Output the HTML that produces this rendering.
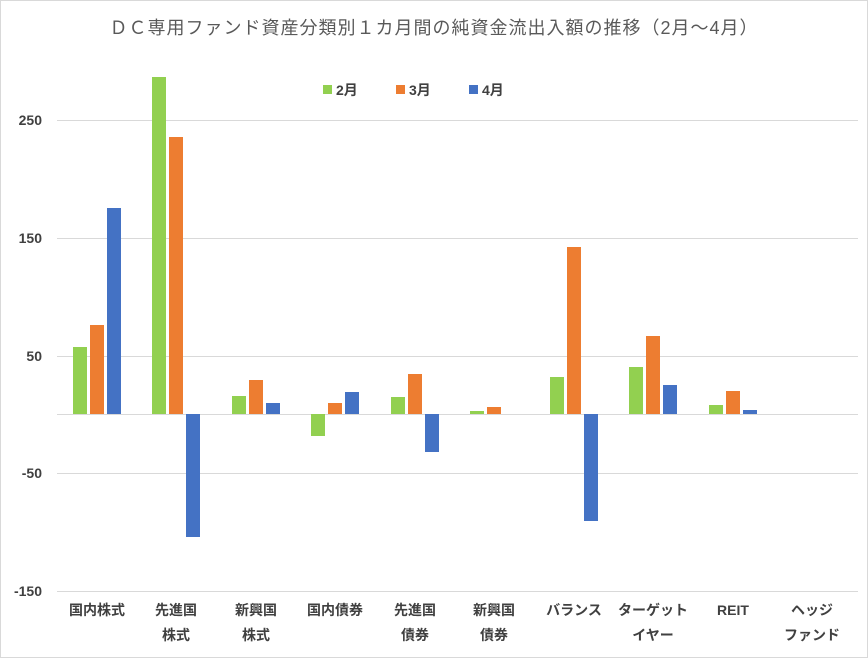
<!DOCTYPE html>
<html><head><meta charset="utf-8"><style>
body{margin:0;background:#fff}
</style></head><body>
<svg width="868" height="658" xmlns="http://www.w3.org/2000/svg" font-family="Liberation Sans, Noto Sans CJK JP, sans-serif">
<rect x="0.5" y="0.5" width="867" height="657" fill="#fff" stroke="#d9d9d9"/>
<text x="434" y="34" text-anchor="middle" font-size="18" fill="#595959" letter-spacing="1">ＤＣ専用ファンド資産分類別１カ月間の純資金流出入額の推移（2月～4月）</text>
<g font-size="14" font-weight="bold" fill="#404040">
<rect x="323" y="85" width="9" height="9" fill="#92d050"/><text x="336" y="95">2月</text>
<rect x="396" y="85" width="9" height="9" fill="#ed7d31"/><text x="409" y="95">3月</text>
<rect x="469" y="85" width="9" height="9" fill="#4472c4"/><text x="482" y="95">4月</text>
</g>
<g stroke="#d9d9d9" stroke-width="1">
<line x1="57" x2="858" y1="120.5" y2="120.5"/><line x1="57" x2="858" y1="238.5" y2="238.5"/>
<line x1="57" x2="858" y1="356.5" y2="356.5"/><line x1="57" x2="858" y1="414.5" y2="414.5"/>
<line x1="57" x2="858" y1="473.5" y2="473.5"/><line x1="57" x2="858" y1="591.5" y2="591.5"/>
</g>
<g font-size="14" font-weight="bold" fill="#404040" text-anchor="end">
<text x="42" y="125">250</text><text x="42" y="243">150</text><text x="42" y="361">50</text>
<text x="42" y="478">-50</text><text x="42" y="596">-150</text>
</g>
<g>
<rect x="73" y="347" width="14" height="67" fill="#92d050"/><rect x="90" y="325" width="14" height="89" fill="#ed7d31"/><rect x="107" y="208" width="14" height="206" fill="#4472c4"/>
<rect x="152" y="77" width="14" height="337" fill="#92d050"/><rect x="169" y="137" width="14" height="277" fill="#ed7d31"/><rect x="186" y="414" width="14" height="123" fill="#4472c4"/>
<rect x="232" y="396" width="14" height="18" fill="#92d050"/><rect x="249" y="380" width="14" height="34" fill="#ed7d31"/><rect x="266" y="403" width="14" height="11" fill="#4472c4"/>
<rect x="311" y="414" width="14" height="22" fill="#92d050"/><rect x="328" y="403" width="14" height="11" fill="#ed7d31"/><rect x="345" y="392" width="14" height="22" fill="#4472c4"/>
<rect x="391" y="397" width="14" height="17" fill="#92d050"/><rect x="408" y="374" width="14" height="40" fill="#ed7d31"/><rect x="425" y="414" width="14" height="38" fill="#4472c4"/>
<rect x="470" y="411" width="14" height="3" fill="#92d050"/><rect x="487" y="407" width="14" height="7" fill="#ed7d31"/>
<rect x="550" y="377" width="14" height="37" fill="#92d050"/><rect x="567" y="247" width="14" height="167" fill="#ed7d31"/><rect x="584" y="414" width="14" height="107" fill="#4472c4"/>
<rect x="629" y="367" width="14" height="47" fill="#92d050"/><rect x="646" y="336" width="14" height="78" fill="#ed7d31"/><rect x="663" y="385" width="14" height="29" fill="#4472c4"/>
<rect x="709" y="405" width="14" height="9" fill="#92d050"/><rect x="726" y="391" width="14" height="23" fill="#ed7d31"/><rect x="743" y="410" width="14" height="4" fill="#4472c4"/>
</g>
<g font-size="14" font-weight="bold" fill="#404040" text-anchor="middle">
<text x="97" y="615">国内株式</text>
<text x="176" y="615">先進国</text><text x="176" y="640">株式</text>
<text x="256" y="615">新興国</text><text x="256" y="640">株式</text>
<text x="335" y="615">国内債券</text>
<text x="415" y="615">先進国</text><text x="415" y="640">債券</text>
<text x="494" y="615">新興国</text><text x="494" y="640">債券</text>
<text x="574" y="615">バランス</text>
<text x="653" y="615">ターゲット</text><text x="653" y="640">イヤー</text>
<text x="733" y="615">REIT</text>
<text x="812" y="615">ヘッジ</text><text x="812" y="640">ファンド</text>
</g>
</svg>
</body></html>
